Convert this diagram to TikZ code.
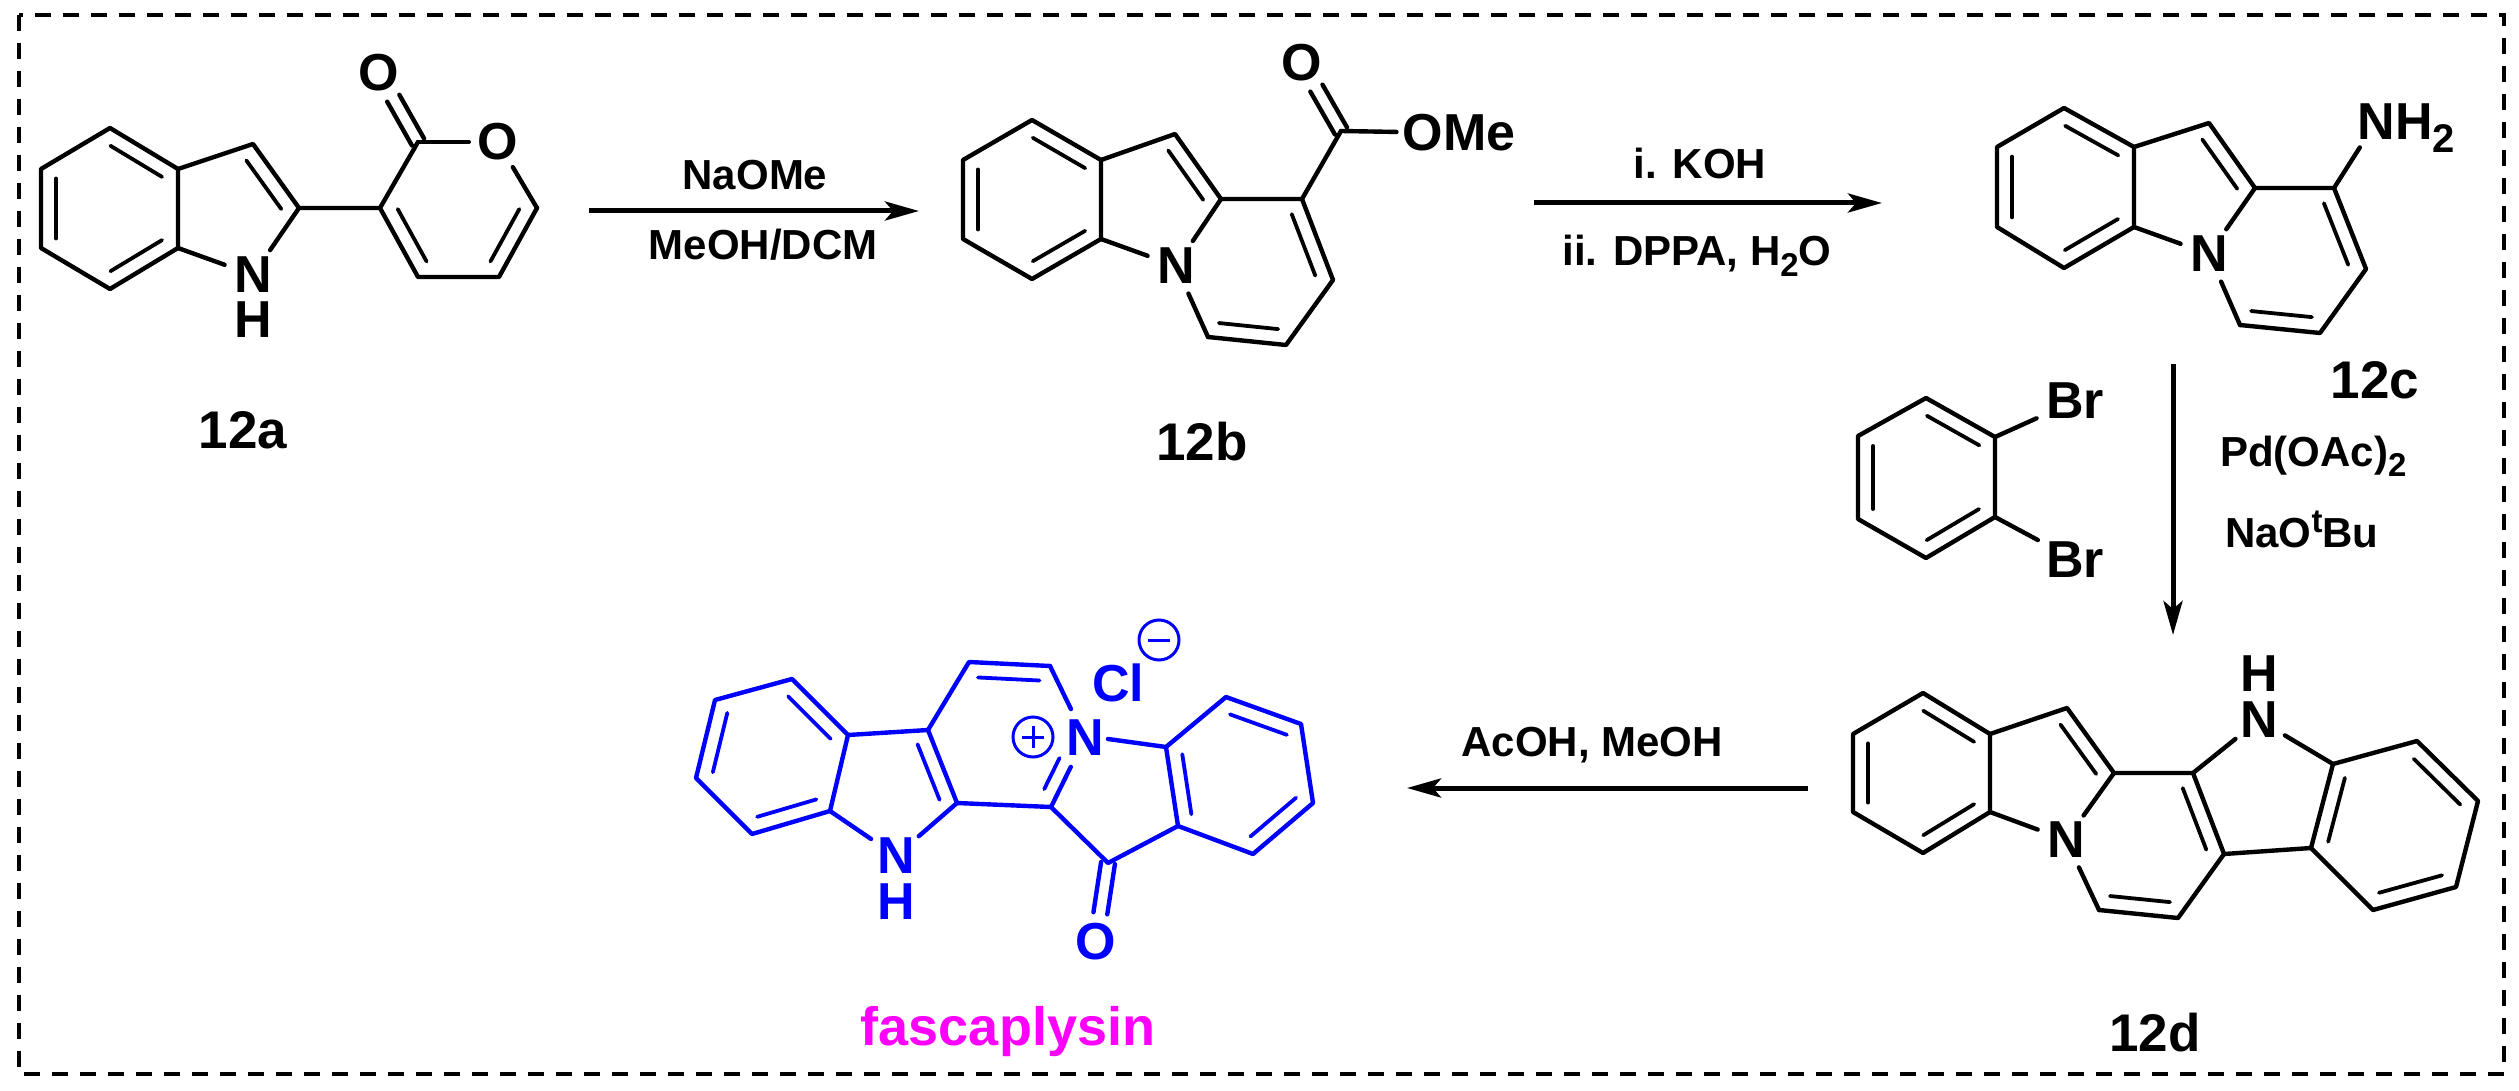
\documentclass[tikz,border=0pt]{standalone}
\usepackage{fontspec}
\setmainfont{Liberation Sans}
\usetikzlibrary{calc,arrows.meta}
\definecolor{fblue}{RGB}{0,0,255}
\definecolor{fmag}{RGB}{255,0,255}
\tikzset{
  bond/.style={line width=4.4pt,line cap=round,line join=round},
  inbond/.style={line width=3.8pt,line cap=round},
  atom/.style={circle,inner sep=0pt,minimum size=#1,font=\fontsize{52}{52}\selectfont\bfseries},
  atom/.default=60pt,
  lab/.style={inner sep=0pt,anchor=base,font=\fontsize{53}{53}\selectfont\bfseries},
  reag/.style={inner sep=0pt,anchor=base,font=\fontsize{42}{42}\selectfont\bfseries},
  rxn/.style={line width=5pt,-{Stealth[length=34pt,width=19pt,inset=8pt]}},
  frame/.style={line width=4.5pt,dash pattern=on 16pt off 12pt},
  charge/.style={circle,draw,line width=3pt,inner sep=0pt,minimum size=40pt}
}
\newcommand{\dbl}[2]{\draw[inbond] ($(#1)!.12!(#2)!15pt!90:(#2)$) -- ($(#2)!.12!(#1)!15pt!-90:(#1)$);}
\newcommand{\cdbl}[2]{\draw[bond] ($(#1)!7pt!90:(#2)$) -- ($(#2)!29pt!(#1)!7pt!-90:(#1)$);
  \draw[bond] ($(#1)!7pt!-90:(#2)$) -- ($(#2)!29pt!(#1)!7pt!90:(#1)$);}
\newcommand{\subs}[2]{\raisebox{-#2pt}{\fontsize{#1}{#1}\selectfont 2}}
\begin{document}
\begin{tikzpicture}[x=1pt,y=-1pt]
\useasboundingbox (0,0) rectangle (2519,1091);
\fill[white] (0,0) rectangle (2519,1091);
\draw[frame] (19,15) rectangle (2504,1074);

%% 12a
\coordinate (a1) at (110,128);\coordinate (a2) at (178,169);\coordinate (a3) at (178,248);
\coordinate (a4) at (110,289);\coordinate (a5) at (41,248);\coordinate (a6) at (41,169);
\coordinate (a7) at (253,144);\coordinate (a8) at (299,208);
\coordinate (p3) at (380,208);\coordinate (p2) at (418,142);\coordinate (p6) at (537,208);
\coordinate (p5) at (499,277);\coordinate (p4) at (418,277);
\node[atom] (aN) at (253,275) {N};
\node[atom] (aH) at (253,320) {H};
\node[atom] (aO1) at (379,73) {O};
\node[atom=58pt] (aO2) at (498,142) {O};
\draw[bond] (a1)--(a2)--(a3)--(a4)--(a5)--(a6)--cycle;
\draw[bond] (a2)--(a7)--(a8)--(p3)--(p2);
\draw[bond] (a3)--(aN);\draw[bond] (a8)--(aN);
\draw[bond] (p2)--(aO2);\draw[bond] (aO2)--(p6);
\draw[bond] (p6)--(p5)--(p4)--(p3);
\dbl{a2}{a1}\dbl{a6}{a5}\dbl{a4}{a3}\dbl{a8}{a7}\dbl{p3}{p4}\dbl{p5}{p6}
\cdbl{p2}{aO1}
\node[lab] (l12a) at (243,448) {12a};

%% 12b
\coordinate (b1) at (1032,120);\coordinate (b2) at (1101,160);\coordinate (b3) at (1101,239);
\coordinate (b4) at (1032,279);\coordinate (b5) at (963,239);\coordinate (b6) at (963,160);
\coordinate (b7) at (1175,134);\coordinate (b8) at (1221,199);\coordinate (b9) at (1302,199);
\coordinate (b10) at (1333,280);\coordinate (b11) at (1286,345);\coordinate (b12) at (1208,337);
\coordinate (b13) at (1341,131);
\node[atom] (bN) at (1176,266) {N};
\node[atom] (bO) at (1302,63) {O};
\node[inner sep=6pt,font=\fontsize{52}{52}\selectfont\bfseries] (bOMe) at (1459,133) {OMe};
\draw[bond] (b1)--(b2)--(b3)--(b4)--(b5)--(b6)--cycle;
\draw[bond] (b2)--(b7)--(b8)--(b9)--(b10)--(b11)--(b12);
\draw[bond] (b12)--(bN);\draw[bond] (b3)--(bN);\draw[bond] (b8)--(bN);
\draw[bond] (b9)--(b13);\draw[bond] (b13)--(bOMe);
\dbl{b2}{b1}\dbl{b6}{b5}\dbl{b4}{b3}\dbl{b8}{b7}\dbl{b10}{b9}\dbl{b12}{b11}
\cdbl{b13}{bO}
\node[lab] (l12b) at (1202,460) {12b};

%% 12c
\coordinate (c1) at (2064,108);\coordinate (c2) at (2134,147);\coordinate (c3) at (2134,227);
\coordinate (c4) at (2064,268);\coordinate (c5) at (1997,227);\coordinate (c6) at (1997,147);
\coordinate (c7) at (2209,123);\coordinate (c8) at (2255,188);\coordinate (c9) at (2334,188);
\coordinate (c10) at (2366,269);\coordinate (c11) at (2320,333);\coordinate (c12) at (2240,325);
\node[atom] (cN) at (2209,254) {N};
\node[atom] (cN2) at (2376,122) {N};
\node[inner sep=0pt,anchor=base west,font=\fontsize{52}{52}\selectfont\bfseries] (cH2) at (2395,140) {H\subs{40}{13}};
\draw[bond] (c1)--(c2)--(c3)--(c4)--(c5)--(c6)--cycle;
\draw[bond] (c2)--(c7)--(c8)--(c9)--(c10)--(c11)--(c12);
\draw[bond] (c12)--(cN);\draw[bond] (c3)--(cN);\draw[bond] (c8)--(cN);
\draw[bond] (c9)--(cN2);
\dbl{c2}{c1}\dbl{c6}{c5}\dbl{c4}{c3}\dbl{c8}{c7}\dbl{c10}{c9}\dbl{c12}{c11}
\node[lab] (l12c) at (2375,398) {12c};

%% dibromobenzene
\coordinate (e1) at (1926,398);\coordinate (e2) at (1995,437);\coordinate (e3) at (1995,517);
\coordinate (e4) at (1926,558);\coordinate (e5) at (1858,519);\coordinate (e6) at (1858,436);
\node[atom=84pt] (eBr1) at (2075,401) {Br};
\node[atom=84pt] (eBr2) at (2075,560) {Br};
\draw[bond] (e1)--(e2)--(e3)--(e4)--(e5)--(e6)--cycle;
\draw[bond] (e2)--(eBr1);\draw[bond] (e3)--(eBr2);
\dbl{e2}{e1}\dbl{e6}{e5}\dbl{e4}{e3}

%% 12d
\coordinate (d1) at (1923,693);\coordinate (d2) at (1990,734);\coordinate (d3) at (1990,812);
\coordinate (d4) at (1923,853);\coordinate (d5) at (1853,812);\coordinate (d6) at (1853,734);
\coordinate (d7) at (2067,708);\coordinate (d8) at (2114,773);\coordinate (d9) at (2193,773);
\coordinate (d10) at (2224,854);\coordinate (d11) at (2178,918);\coordinate (d12) at (2099,910);
\coordinate (d13) at (2333,764);\coordinate (d14) at (2311,848);\coordinate (d15) at (2417,741);
\coordinate (d16) at (2478,801);\coordinate (d17) at (2456,887);\coordinate (d18) at (2373,910);
\node[atom] (dN) at (2066,840) {N};
\node[atom] (dN2) at (2259,720) {N};
\node[atom] (dH) at (2259,674) {H};
\draw[bond] (d1)--(d2)--(d3)--(d4)--(d5)--(d6)--cycle;
\draw[bond] (d2)--(d7)--(d8)--(d9)--(d10)--(d11)--(d12);
\draw[bond] (d12)--(dN);\draw[bond] (d3)--(dN);\draw[bond] (d8)--(dN);
\draw[bond] (d9)--(dN2);\draw[bond] (d13)--(dN2);
\draw[bond] (d10)--(d14)--(d13)--(d15)--(d16)--(d17)--(d18)--(d14);
\dbl{d2}{d1}\dbl{d6}{d5}\dbl{d4}{d3}\dbl{d8}{d7}\dbl{d10}{d9}\dbl{d12}{d11}
\dbl{d16}{d15}\dbl{d18}{d17}\dbl{d13}{d14}
\node[lab] (l12d) at (2155,1051) {12d};

%% fascaplysin
\begin{scope}[color=fblue,text=fblue]
\coordinate (f1) at (792,679);\coordinate (f2) at (848,735);\coordinate (f3) at (830,811);
\coordinate (f4) at (752,834);\coordinate (f5) at (696,778);\coordinate (f6) at (715,700);
\coordinate (f7) at (928,730);\coordinate (f8) at (957,803);\coordinate (f9) at (969,662);
\coordinate (f10) at (1050,666);\coordinate (f11) at (1051,807);\coordinate (f12) at (1108,863);
\coordinate (f13) at (1166,747);\coordinate (f14) at (1178,826);\coordinate (f15) at (1253,854);
\coordinate (f16) at (1313,803);\coordinate (f17) at (1301,724);\coordinate (f18) at (1226,697);
\coordinate (fNe) at (1108,739);
\node[atom] (fN) at (896,856) {N};
\node[atom] (fH) at (896,902) {H};
\node[atom=64pt] (fNp) at (1085,738) {N};
\node[atom] (fO) at (1096,942) {O};
\node[atom] (fCl) at (1118,683) {Cl};
\node[charge] (fPlus) at (1033,737) {};
\node[charge] (fMinus) at (1159,640) {};
\draw[line width=3pt] ($(fPlus)+(-11,0)$) -- ($(fPlus)+(11,0)$);
\draw[line width=3pt] ($(fPlus)+(0,-11)$) -- ($(fPlus)+(0,11)$);
\draw[line width=3pt] ($(fMinus)+(-11,0)$) -- ($(fMinus)+(11,0)$);
\draw[bond] (f1)--(f2)--(f3)--(f4)--(f5)--(f6)--cycle;
\draw[bond] (f2)--(f7)--(f8)--(f11)--(f12)--(f14)--(f13)--(f18)--(f17)--(f16)--(f15)--(f14);
\draw[bond] (f7)--(f9)--(f10);
\draw[bond] (f3)--(fN);\draw[bond] (f8)--(fN);
\draw[bond] (f10)--(fNp);\draw[bond] (f11)--(fNp);
\draw[bond] (fNe)--(f13);
\dbl{f2}{f1}\dbl{f6}{f5}\dbl{f4}{f3}\dbl{f8}{f7}\dbl{f10}{f9}
\dbl{f17}{f18}\dbl{f15}{f16}\dbl{f13}{f14}
\draw[inbond] ($(f11)!.17!(fNp)!14pt!90:(fNp)$) -- ($(f11)!.62!(fNp)!14pt!90:(fNp)$);
\cdbl{f12}{fO}
\end{scope}
\node[lab,text=fmag,font=\fontsize{54}{54}\selectfont\bfseries] (lfas) at (1008,1045) {fascaplysin};

%% arrows
\coordinate (r1s) at (589,211);\coordinate (r1e) at (919,211);
\draw[rxn] (r1s)--(r1e);
\node[reag] (t1) at (755,190) {NaOMe};
\node[reag] (t2) at (763,260) {MeOH/DCM};
\coordinate (r2s) at (1534,203);\coordinate (r2e) at (1882,203);
\draw[rxn] (r2s)--(r2e);
\node[reag] (t3) at (1700,179) {i. KOH};
\node[reag] (t4) at (1697,266) {ii. DPPA, H\subs{33}{10}O};
\coordinate (r3s) at (2173,364);\coordinate (r3e) at (2173,635);
\draw[rxn] (r3s)--(r3e);
\node[reag,anchor=base west] (t5) at (2220,466) {Pd(OAc)\subs{33}{10}};
\node[reag,anchor=base west] (t6) at (2225,547) {NaO\raisebox{15pt}{\fontsize{33}{33}\selectfont t}Bu};
\coordinate (r4s) at (1808,788);\coordinate (r4e) at (1407,788);
\draw[rxn] (r4s)--(r4e);
\node[reag] (t7) at (1592,756) {AcOH, MeOH};
\end{tikzpicture}
\end{document}
